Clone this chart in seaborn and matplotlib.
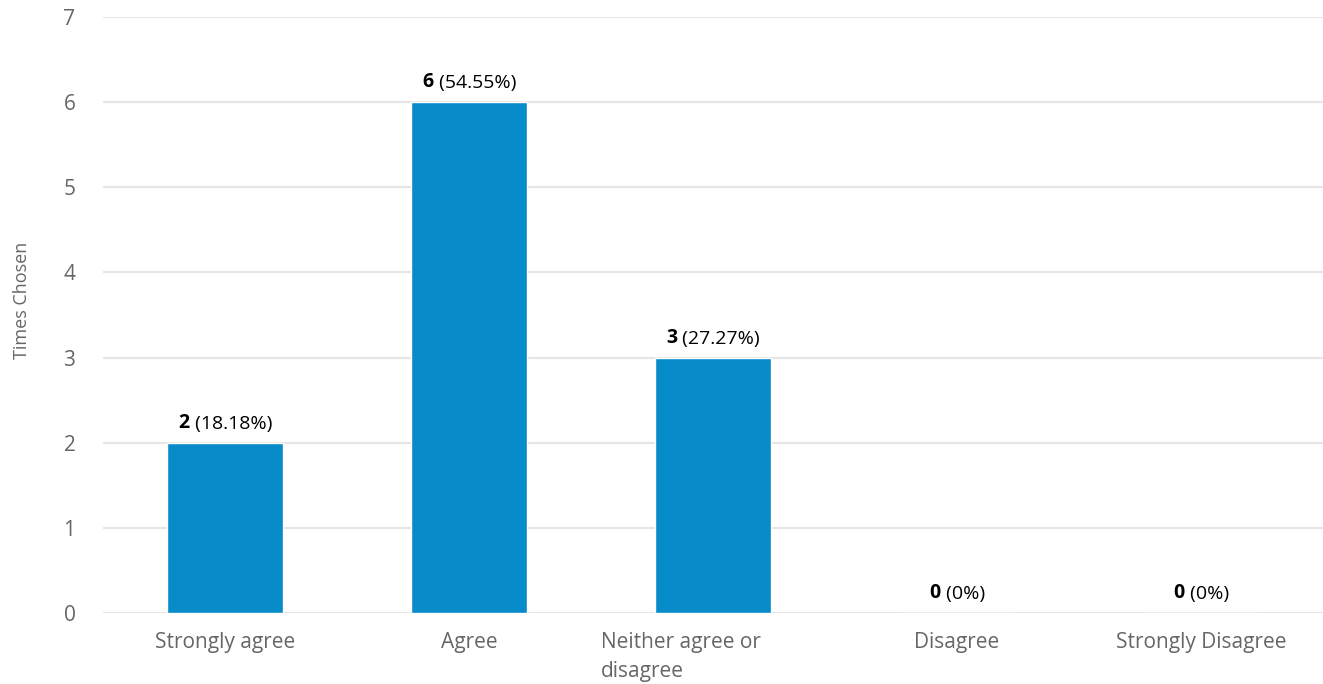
import matplotlib
matplotlib.use("Agg")
import matplotlib.pyplot as plt
import matplotlib.transforms as mtransforms
import seaborn as sns
import pandas as pd

# data
categories = ['Strongly agree', 'Agree', 'Neither agree or\ndisagree', 'Disagree', 'Strongly Disagree']
counts = [2, 6, 3, 0, 0]
percents = ['18.18%', '54.55%', '27.27%', '0%', '0%']

df = pd.DataFrame({'answer': categories, 'count': counts})

sns.set_theme(style='white')
plt.rcParams['font.family'] = ['Open Sans', 'DejaVu Sans']

fig = plt.figure(figsize=(13.23, 6.84), dpi=100)
ax = fig.add_axes([0.078, 0.104, 0.922, 0.871])

sns.barplot(data=df, x='answer', y='count', color='#078bc9', saturation=1,
            width=0.475, ax=ax, zorder=3)

ax.set_ylim(0, 7)
ax.set_xlim(-0.5, 4.5)
ax.set_yticks(range(0, 8))
ax.yaxis.grid(True, color='#e6e6e6', linewidth=1.5, zorder=0)
ax.set_axisbelow(True)
sns.despine(ax=ax, left=True, bottom=True, top=True, right=True)
ax.tick_params(axis='both', length=0, labelsize=15, labelcolor='#666666')
ax.tick_params(axis='y', pad=20)
ax.tick_params(axis='x', pad=14)
ax.set_xlabel('')
ax.set_ylabel('Times Chosen', fontsize=13, color='#666666')
ax.yaxis.set_label_coords(-0.059, 0.525)

# the wrapped label is left aligned in its slot
lab = ax.get_xticklabels()[2]
lab.set_horizontalalignment('left')
lab.set_multialignment('left')
lab.set_linespacing(1.45)
lab.set_transform(lab.get_transform() + mtransforms.ScaledTranslation(-112 / 100, 0, fig.dpi_scale_trans))

# value labels: bold count + normal percentage, centred together
fig.canvas.draw()
renderer = fig.canvas.get_renderer()
for i, (c, p) in enumerate(zip(counts, percents)):
    t1 = ax.annotate(str(c), (i, c), xytext=(0, 7), textcoords='offset points',
                     ha='left', va='bottom', fontsize=14, fontweight='bold', color='black')
    t2 = ax.annotate(' (' + p + ')', (i, c), xytext=(0, 7), textcoords='offset points',
                     ha='left', va='bottom', fontsize=14, color='black')
    w1 = t1.get_window_extent(renderer).width
    w2 = t2.get_window_extent(renderer).width
    tot = w1 + w2
    start = -tot / 2 * 72 / fig.dpi
    t1.xyann = (start, 7)
    t2.xyann = (start + w1 * 72 / fig.dpi, 7)

fig.savefig('out.png', dpi=100)
